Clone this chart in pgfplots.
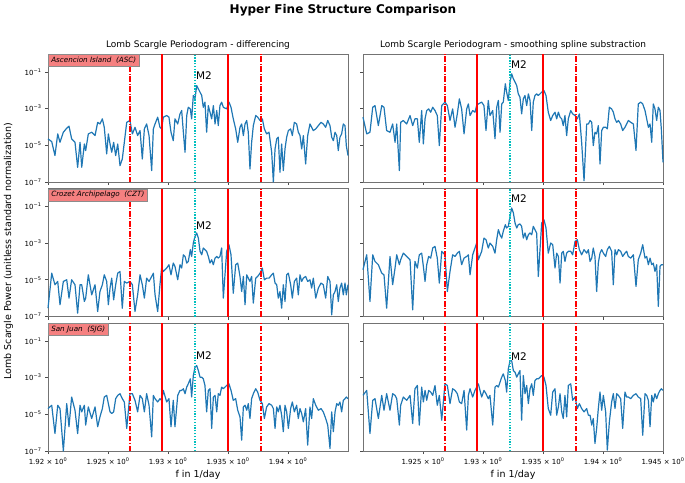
\documentclass[border=0pt]{standalone}
\usepackage{fontspec}
\setmainfont{DejaVu Sans}
\usepackage{pgfplots}
\usepackage{pgfplotstable}
\pgfplotsset{compat=1.18}

\definecolor{mplblue}{RGB}{31,119,180}
\definecolor{mplcyan}{RGB}{0,191,191}
\definecolor{boxred}{RGB}{245,128,128}
\definecolor{vred}{RGB}{255,0,0}

% x = frequency (1/day); columns = log10 of Lomb-Scargle power
% a = Ascencion Island, b = Crozet Archipelago, c = San Juan; 1 = differencing, 2 = smoothing spline
\pgfplotstableread{
x a1 a2 b1 b2 c1 c2
1.92000 -4.65 -3.47 -6.55 -4.45 -4.69 -3.97
1.92031 -4.80 -4.38 -4.64 -3.64 -4.51 -3.70
1.92058 -5.56 -4.29 -5.27 -6.18 -6.05 -6.05
1.92081 -4.38 -2.93 -5.09 -3.64 -4.51 -4.24
1.92100 -4.84 -2.84 -6.36 -4.00 -4.69 -4.15
1.92128 -4.29 -3.93 -5.09 -4.18 -7.00 -5.23
1.92156 -4.07 -2.84 -5.00 -4.64 -4.42 -3.97
1.92175 -3.96 -2.93 -6.00 -4.73 -5.68 -4.78
1.92197 -4.65 -4.20 -5.00 -6.55 -4.06 -3.88
1.92225 -4.84 -4.29 -5.27 -3.73 -4.78 -4.78
1.92247 -6.20 -3.84 -6.82 -5.27 -6.05 -3.88
1.92267 -4.84 -4.84 -5.27 -4.36 -4.51 -3.97
1.92281 -6.20 -3.84 -5.27 -3.64 -4.87 -4.15
1.92303 -4.93 -6.38 -6.18 -4.18 -4.51 -5.59
1.92314 -5.29 -3.75 -6.00 -3.91 -5.59 -4.51
1.92336 -4.38 -3.65 -4.73 -3.55 -4.60 -4.06
1.92364 -4.29 -3.84 -5.82 -3.73 -5.23 -4.24
1.92392 -4.47 -3.38 -5.27 -3.91 -4.60 -3.97
1.92414 -3.75 -3.93 -6.73 -6.64 -5.68 -5.50
1.92433 -3.84 -3.56 -5.64 -4.00 -5.14 -3.61
1.92453 -3.56 -3.56 -5.27 -4.36 -4.69 -3.43
1.92469 -4.02 -4.84 -4.73 -3.64 -4.06 -5.59
1.92489 -5.47 -3.11 -5.09 -3.55 -3.97 -3.52
1.92503 -4.38 -4.93 -6.36 -4.27 -4.42 -4.33
1.92517 -4.93 -3.56 -5.45 -5.09 -4.87 -3.70
1.92531 -5.38 -3.11 -4.91 -4.18 -4.96 -4.24
1.92547 -4.84 -3.02 -6.09 -3.73 -4.87 -3.70
1.92564 -5.56 -3.20 -5.27 -3.82 -4.15 -3.79
1.92581 -4.93 -2.93 -4.64 -3.27 -3.97 -3.97
1.92600 -6.11 -3.11 -4.55 -3.18 -3.88 -3.43
1.92619 -5.75 -3.38 -6.55 -3.82 -4.15 -4.51
1.92636 -4.84 -5.02 -5.09 -5.18 -4.33 -3.97
1.92656 -3.75 -2.84 -5.18 -3.45 -5.77 -5.32
1.92683 -3.65 -2.65 -5.09 -3.64 -3.88 -3.34
1.92703 -4.38 -2.84 -5.27 -5.64 -3.88 -3.43
1.92725 -4.02 -3.65 -6.73 -4.55 -4.24 -4.42
1.92747 -4.47 -3.02 -5.82 -3.64 -4.87 -3.61
1.92767 -4.20 -4.02 -4.73 -3.73 -3.97 -3.70
1.92786 -5.75 -3.29 -5.27 -3.55 -4.15 -3.88
1.92803 -4.11 -2.47 -6.00 -3.45 -4.87 -4.33
1.92822 -3.84 -3.02 -4.91 -4.18 -3.88 -4.42
1.92842 -4.47 -4.38 -5.09 -3.82 -4.51 -3.70
1.92864 -6.38 -3.02 -4.82 -3.73 -6.23 -5.86
1.92878 -4.11 -2.75 -4.64 -3.64 -3.97 -3.97
1.92892 -3.84 -3.38 -5.82 -4.73 -4.15 -3.61
1.92914 -3.47 -3.11 -6.73 -3.64 -4.33 -4.06
1.92933 -4.02 -3.20 -5.27 -3.27 -4.15 -3.70
1.92947 -4.11 -2.84 -4.36 -3.00 -4.24 -3.52
1.92961 -3.47 -2.75 -4.55 -3.91 -3.70 -3.34
1.92989 -3.38 -2.65 -4.36 -3.45 -4.33 -4.06
1.93008 -3.47 -2.84 -4.18 -2.73 -4.15 -3.70
1.93025 -4.29 -4.20 -4.73 -2.82 -5.68 -3.88
1.93044 -4.75 -2.56 -4.09 -3.27 -4.24 -4.15
1.93058 -3.56 -3.38 -4.27 -3.00 -5.68 -3.97
1.93081 -3.84 -3.11 -5.00 -3.18 -3.97 -5.59
1.93100 -3.29 -4.65 -4.18 -3.55 -3.70 -3.52
1.93114 -3.11 -2.93 -4.36 -2.82 -3.70 -3.43
1.93128 -4.29 -2.56 -3.64 -2.27 -3.61 -3.52
1.93142 -5.38 -4.29 -3.73 -2.55 -3.88 -3.25
1.93156 -3.38 -2.75 -4.09 -2.73 -3.52 -2.98
1.93169 -2.93 -2.65 -4.00 -2.36 -3.34 -2.80
1.93186 -3.02 -1.65 -3.36 -2.00 -3.07 -3.16
1.93197 -3.56 -2.11 -3.73 -2.18 -4.06 -3.79
1.93211 -2.29 -2.56 -3.00 -2.09 -2.89 -2.53
1.93225 -2.47 -1.56 -2.64 -1.55 -2.44 -2.08
1.93239 -1.75 -1.11 -2.45 -1.09 -2.35 -2.08
1.93253 -1.93 -1.38 -2.73 -1.36 -2.62 -2.62
1.93267 -2.11 -1.56 -3.45 -1.91 -2.98 -2.71
1.93281 -2.29 -1.75 -3.64 -2.18 -2.98 -2.98
1.93294 -2.93 -2.20 -3.27 -2.00 -3.07 -2.80
1.93308 -2.65 -2.38 -3.36 -1.96 -3.43 -2.62
1.93322 -4.29 -3.29 -3.45 -2.09 -4.87 -5.32
1.93336 -2.84 -2.47 -3.73 -2.73 -3.70 -2.89
1.93350 -3.20 -2.29 -4.09 -2.45 -3.61 -3.88
1.93364 -3.56 -2.84 -3.91 -2.82 -5.77 -3.43
1.93378 -2.84 -2.20 -4.18 -2.55 -4.06 -4.42
1.93392 -3.84 -2.56 -3.82 -2.45 -3.97 -3.61
1.93406 -3.11 -4.20 -3.73 -2.55 -4.87 -3.34
1.93419 -3.93 -2.65 -3.82 -2.09 -3.88 -3.97
1.93433 -2.84 -2.29 -3.73 -2.27 -3.97 -3.16
1.93447 -2.65 -2.20 -3.27 -2.45 -3.52 -3.07
1.93461 -2.93 -2.29 -6.00 -4.82 -3.61 -3.07
1.93489 -3.02 -2.11 -3.45 -1.91 -3.43 -2.89
1.93508 -2.65 -2.02 -3.09 -1.73 -3.34 -2.98
1.93525 -2.93 -2.29 -3.64 -2.18 -3.70 -3.43
1.93544 -3.56 -3.20 -5.73 -3.55 -4.24 -4.69
1.93564 -4.11 -3.65 -4.18 -3.00 -4.15 -5.05
1.93581 -4.84 -3.38 -4.09 -3.09 -4.78 -3.79
1.93600 -4.02 -3.20 -4.82 -4.36 -5.14 -3.61
1.93614 -3.84 -3.56 -5.64 -3.55 -6.41 -5.05
1.93628 -4.47 -3.20 -4.82 -3.73 -4.60 -4.60
1.93642 -3.84 -3.47 -6.36 -5.18 -4.51 -3.88
1.93656 -3.65 -3.56 -4.73 -3.55 -4.78 -4.87
1.93669 -4.29 -3.93 -4.91 -3.45 -4.42 -5.23
1.93683 -6.29 -3.38 -5.09 -4.00 -5.23 -3.97
1.93697 -4.84 -4.47 -4.82 -3.55 -4.15 -5.14
1.93711 -3.93 -3.56 -6.27 -3.45 -3.88 -3.43
1.93731 -3.38 -3.11 -4.91 -3.45 -3.61 -3.34
1.93747 -3.47 -3.29 -4.82 -3.64 -3.79 -4.24
1.93767 -3.65 -3.38 -4.64 -2.91 -4.24 -4.06
1.93786 -3.56 -3.56 -4.36 -2.82 -4.42 -4.69
1.93803 -4.11 -3.29 -5.00 -3.36 -5.23 -4.42
1.93822 -4.38 -4.84 -4.91 -3.64 -4.60 -4.69
1.93842 -4.29 -6.93 -4.91 -3.36 -4.42 -4.87
1.93864 -5.38 -3.84 -4.73 -3.55 -4.51 -4.69
1.93878 -7.00 -3.84 -4.64 -3.36 -4.69 -5.05
1.93892 -5.20 -3.65 -5.18 -4.00 -5.77 -5.05
1.93906 -4.65 -3.75 -5.27 -3.82 -4.60 -5.59
1.93919 -4.56 -5.02 -6.00 -3.27 -4.87 -5.23
1.93933 -6.47 -4.29 -5.64 -3.73 -4.51 -6.59
1.93947 -4.93 -4.38 -6.55 -5.64 -5.05 -5.77
1.93961 -6.38 -3.93 -5.27 -4.09 -5.95 -4.69
1.93975 -5.20 -6.02 -6.18 -3.55 -4.51 -3.79
1.93989 -4.56 -4.20 -4.73 -3.36 -4.87 -4.78
1.94003 -4.20 -4.02 -4.64 -3.55 -5.77 -3.97
1.94022 -4.11 -4.02 -5.27 -3.73 -4.69 -4.87
1.94036 -4.47 -4.11 -6.00 -3.36 -4.33 -6.95
1.94053 -3.75 -2.93 -5.09 -3.18 -4.87 -5.41
1.94072 -3.84 -3.02 -4.91 -3.45 -4.51 -4.33
1.94086 -4.29 -3.20 -5.82 -5.27 -5.23 -3.88
1.94100 -4.47 -3.56 -4.73 -3.36 -4.69 -4.69
1.94114 -5.20 -3.75 -5.09 -3.64 -4.96 -3.88
1.94128 -4.47 -3.65 -4.91 -3.36 -5.41 -3.97
1.94147 -6.02 -3.84 -4.82 -3.45 -4.69 -4.15
1.94164 -4.47 -4.20 -5.09 -3.73 -6.68 -5.77
1.94183 -3.84 -4.02 -5.00 -3.55 -4.60 -3.79
1.94197 -4.02 -3.84 -5.45 -3.45 -5.23 -4.06
1.94211 -4.20 -3.65 -4.91 -3.73 -4.15 -4.06
1.94231 -4.11 -3.75 -6.00 -3.82 -4.51 -4.15
1.94253 -3.93 -3.84 -5.45 -3.64 -4.78 -3.97
1.94275 -3.75 -5.29 -5.18 -5.36 -4.69 -3.88
1.94294 -3.84 -2.75 -5.27 -3.91 -4.87 -4.06
1.94314 -4.02 -2.65 -6.00 -3.55 -5.23 -4.15
1.94331 -3.65 -2.75 -4.82 -3.09 -5.59 -6.14
1.94350 -3.93 -3.11 -5.09 -3.82 -6.86 -3.88
1.94364 -4.56 -3.56 -6.91 -3.73 -4.87 -3.97
1.94378 -4.75 -4.02 -5.82 -4.18 -5.95 -4.24
1.94392 -4.29 -3.84 -5.64 -3.82 -4.87 -5.68
1.94406 -4.47 -4.84 -5.27 -4.18 -4.42 -3.97
1.94419 -5.29 -2.75 -6.18 -4.09 -4.51 -4.33
1.94433 -4.56 -3.02 -5.45 -4.55 -4.33 -3.88
1.94447 -4.38 -3.65 -5.18 -4.18 -4.87 -4.15
1.94461 -3.84 -2.93 -5.82 -6.45 -4.24 -3.88
1.94475 -3.93 -3.11 -5.18 -4.27 -4.15 -3.70
1.94486 -5.02 -4.11 -5.82 -4.18 -4.06 -3.61
1.94500 -5.56 -5.93 -5.27 -4.18 -4.15 -3.70
}\data

\pgfplotsset{
  panel/.style={
    scale only axis, width=300pt, height=128pt,
    xmin=1.92, xmax=1.945, ymin=-7, ymax=-0.03,
    tick pos=left, tick align=outside,
    major tick length=3pt,
    axis line style={black!55, line width=0.8pt},
    every tick/.style={black!70, line width=0.6pt},
    ytick={-7,-5,-3,-1},
    yticklabels={10\textsuperscript{−7},10\textsuperscript{−5},10\textsuperscript{−3},10\textsuperscript{−1}},
    xtick={1.92,1.925,1.93,1.935,1.94},
    xticklabels={},
    tick label style={font=\fontsize{7}{8}\selectfont},
    clip=false,
    anchor=north west,
    unbounded coords=jump,
  },
  rightcol/.style={xtick={1.925,1.93,1.935,1.94,1.945}, yticklabels={}},
  bottomleft/.style={xticklabels={1.92 × 10\textsuperscript{0},1.925 × 10\textsuperscript{0},1.93 × 10\textsuperscript{0},1.935 × 10\textsuperscript{0},1.94 × 10\textsuperscript{0}}},
  bottomright/.style={xticklabels={1.925 × 10\textsuperscript{0},1.93 × 10\textsuperscript{0},1.935 × 10\textsuperscript{0},1.94 × 10\textsuperscript{0},1.945 × 10\textsuperscript{0}}},
}

% M2 (cyan), M2 +/- 1 cycle/yr (solid red), M2 +/- 2 cycles/yr (dash-dot red)
\newcommand{\vlines}{%
  \addplot[vred, line width=2pt, dash pattern=on 5.5pt off 1.6pt on 1.3pt off 1.6pt, mark=none, forget plot]
    coordinates {(1.926798,-7) (1.926798,-0.03) (1.932,nan) (1.937750,-7) (1.937750,-0.03)};
  \addplot[mplcyan, line width=1.6pt, dash pattern=on 1.3pt off 1.5pt, mark=none, forget plot]
    coordinates {(1.932274,-7) (1.932274,-0.03)};
  \addplot[vred, line width=2pt, solid, mark=none, forget plot]
    coordinates {(1.929536,-7) (1.929536,-0.03) (1.932,nan) (1.935012,-7) (1.935012,-0.03)};
}
\newcommand{\curve}[1]{%
  \addplot[mplblue, line width=1.2pt, line join=round, mark=none, solid, forget plot] table[x=x,y=#1]{\data};
}
\newcommand{\station}[1]{%
  \node[anchor=north west, fill=boxred, draw=black!45, line width=0.5pt, inner xsep=3pt, inner ysep=2.6pt,
        font=\fontsize{7.2}{8}\selectfont\itshape] at (rel axis cs:0,1) {#1};
}
\newcommand{\mtwo}[1]{%
  \node[anchor=west, inner sep=0pt, font=\fontsize{10.5}{12}\selectfont] at (axis cs:1.93233,#1) {M2};
}

\begin{document}
\begin{tikzpicture}
\path[use as bounding box] (0pt,0pt) rectangle (685pt,-482pt);

% row 1
\begin{axis}[panel, at={(48pt,-54pt)}]
  \curve{a1}
  \vlines
  \station{Ascencion Island\ \ (ASC)}
  \mtwo{-1.22}
\end{axis}
\begin{axis}[panel, rightcol, at={(363pt,-54pt)}]
  \curve{a2}
  \vlines
  \mtwo{-0.62}
\end{axis}

% row 2
\begin{axis}[panel, at={(48pt,-188.5pt)}]
  \curve{b1}
  \vlines
  \station{Crozet Archipelago\ \ (CZT)}
  \mtwo{-2.04}
\end{axis}
\begin{axis}[panel, rightcol, at={(363pt,-188.5pt)}]
  \curve{b2}
  \vlines
  \mtwo{-0.60}
\end{axis}

% row 3
\begin{axis}[panel, bottomleft, at={(48pt,-323pt)}]
  \curve{c1}
  \vlines
  \station{San Juan\ \ (SJG)}
  \mtwo{-1.81}
\end{axis}
\begin{axis}[panel, rightcol, bottomright, at={(363pt,-323pt)}]
  \curve{c2}
  \vlines
  \mtwo{-1.84}
\end{axis}

% titles and labels
\node[font=\fontsize{12}{14}\selectfont\bfseries] at (343pt,-10.5pt) {Hyper Fine Structure Comparison};
\node[font=\fontsize{9}{11}\selectfont] at (198pt,-45.5pt) {Lomb Scargle Periodogram - differencing};
\node[font=\fontsize{9}{11}\selectfont] at (513pt,-45.5pt) {Lomb Scargle Periodogram - smoothing spline substraction};
\node[font=\fontsize{9.5}{11}\selectfont] at (198pt,-475pt) {f in 1/day};
\node[font=\fontsize{9.5}{11}\selectfont] at (513pt,-475pt) {f in 1/day};
\node[font=\fontsize{9.5}{11}\selectfont, rotate=90] at (8.5pt,-251pt) {Lomb Scargle Power (unitless standard normalization)};
\end{tikzpicture}
\end{document}
